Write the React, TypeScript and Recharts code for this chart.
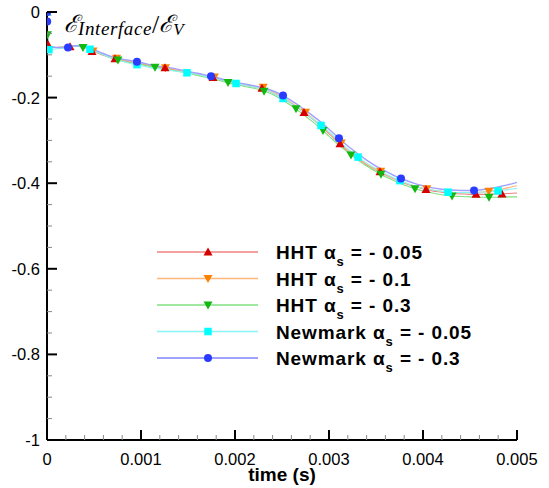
import { ComposedChart, Line, Scatter, XAxis, YAxis } from 'recharts'

// time grid shared by all curves (s)
const timeGrid = [
  0, 0.000002, 0.000005, 0.00001, 0.00002,
  0.0001, 0.0002, 0.0003, 0.0004, 0.0005, 0.0006, 0.0007, 0.0008, 0.0009, 0.001,
  0.0011, 0.0012, 0.0013, 0.0014, 0.0015, 0.0016, 0.0017, 0.0018, 0.0019, 0.002,
  0.0021, 0.0022, 0.0023, 0.0024, 0.0025, 0.0026, 0.0027, 0.0028, 0.0029, 0.003,
  0.0031, 0.0032, 0.0033, 0.0034, 0.0035, 0.0036, 0.0037, 0.0038, 0.0039, 0.004,
  0.0041, 0.0042, 0.0043, 0.0044, 0.0045, 0.0046, 0.0047, 0.0048, 0.0049, 0.005,
]

const hht005 = [
  0, -0.02, -0.05, -0.076, -0.082,
  -0.083, -0.082, -0.079, -0.082, -0.092, -0.101, -0.108, -0.113, -0.117, -0.121,
  -0.125, -0.129, -0.133, -0.137, -0.142, -0.146, -0.151, -0.156, -0.162, -0.167,
  -0.171, -0.175, -0.18, -0.189, -0.2, -0.214, -0.229, -0.246, -0.264, -0.284,
  -0.305, -0.325, -0.342, -0.357, -0.369, -0.381, -0.391, -0.4, -0.407, -0.413,
  -0.418, -0.421, -0.424, -0.425, -0.426, -0.426, -0.426, -0.425, -0.424, -0.423,
]
const hht01 = [
  0, -0.02, -0.05, -0.075, -0.082,
  -0.083, -0.082, -0.079, -0.082, -0.091, -0.1, -0.107, -0.112, -0.116, -0.12,
  -0.124, -0.128, -0.132, -0.136, -0.141, -0.145, -0.15, -0.155, -0.161, -0.166,
  -0.17, -0.174, -0.179, -0.187, -0.198, -0.212, -0.227, -0.244, -0.262, -0.282,
  -0.303, -0.323, -0.34, -0.355, -0.368, -0.38, -0.39, -0.399, -0.406, -0.412,
  -0.416, -0.419, -0.421, -0.422, -0.422, -0.421, -0.419, -0.416, -0.411, -0.406,
]
const hht03 = [
  0, -0.02, -0.053, -0.075, -0.082,
  -0.083, -0.082, -0.079, -0.083, -0.091, -0.1, -0.109, -0.115, -0.119, -0.123,
  -0.127, -0.131, -0.135, -0.139, -0.143, -0.148, -0.153, -0.158, -0.164, -0.169,
  -0.174, -0.178, -0.184, -0.193, -0.205, -0.219, -0.235, -0.252, -0.27, -0.29,
  -0.31, -0.328, -0.345, -0.36, -0.373, -0.385, -0.395, -0.404, -0.412, -0.418,
  -0.423, -0.427, -0.43, -0.431, -0.432, -0.433, -0.433, -0.433, -0.432, -0.432,
]
const nm005 = [
  0, -0.02, -0.05, -0.076, -0.088,
  -0.086, -0.084, -0.08, -0.083, -0.09, -0.1, -0.108, -0.115, -0.121, -0.125,
  -0.13, -0.133, -0.136, -0.139, -0.142, -0.146, -0.151, -0.156, -0.161, -0.167,
  -0.171, -0.175, -0.18, -0.189, -0.201, -0.214, -0.229, -0.246, -0.262, -0.28,
  -0.3, -0.32, -0.337, -0.353, -0.366, -0.378, -0.389, -0.398, -0.406, -0.412,
  -0.416, -0.419, -0.421, -0.422, -0.422, -0.421, -0.42, -0.418, -0.415, -0.412,
]
const nm03 = [
  0, -0.022, -0.05, -0.075, -0.08,
  -0.083, -0.083, -0.079, -0.08, -0.088, -0.097, -0.105, -0.11, -0.114, -0.118,
  -0.123, -0.127, -0.13, -0.134, -0.139, -0.143, -0.148, -0.153, -0.159, -0.164,
  -0.168, -0.172, -0.177, -0.184, -0.194, -0.207, -0.222, -0.238, -0.255, -0.274,
  -0.294, -0.313, -0.33, -0.346, -0.36, -0.372, -0.383, -0.392, -0.4, -0.406,
  -0.411, -0.414, -0.416, -0.417, -0.417, -0.416, -0.413, -0.409, -0.404, -0.398,
]

// symbol positions (time, value) for each series
const hht005MarkT = [0, 0.00001, 0.000245, 0.000479, 0.000723, 0.001255, 0.001766, 0.002287, 0.002734, 0.003117, 0.003543, 0.004032, 0.004564, 0.00484]
const hht005MarkV = [0, -0.076, -0.081, -0.092, -0.109, -0.13, -0.153, -0.178, -0.235, -0.308, -0.373, -0.415, -0.426, -0.425]
const hht01MarkT = [0.00049, 0.00074, 0.00126, 0.00178, 0.0023, 0.00275, 0.00313, 0.00355, 0.00404, 0.0047]
const hht01MarkV = [-0.091, -0.108, -0.13, -0.152, -0.176, -0.234, -0.306, -0.372, -0.413, -0.419]
const hht03MarkT = [0.000005, 0.000383, 0.000755, 0.001149, 0.001926, 0.002309, 0.002649, 0.002936, 0.003234, 0.003553, 0.003915, 0.004309, 0.004702]
const hht03MarkV = [-0.053, -0.083, -0.112, -0.129, -0.165, -0.185, -0.226, -0.277, -0.334, -0.379, -0.413, -0.43, -0.433]
const nm005MarkT = [0, 0.00002, 0.000457, 0.000957, 0.001489, 0.002011, 0.002511, 0.002915, 0.003309, 0.003755, 0.004266, 0.004798]
const nm005MarkV = [0, -0.088, -0.087, -0.123, -0.142, -0.167, -0.202, -0.265, -0.339, -0.394, -0.421, -0.418]
const nm03MarkT = [0, 0.000002, 0.000223, 0.000957, 0.001745, 0.002511, 0.003106, 0.003766, 0.004543]
const nm03MarkV = [0, -0.022, -0.083, -0.116, -0.15, -0.195, -0.295, -0.389, -0.417]

const xMajorTicks = [0, 0.001, 0.002, 0.003, 0.004, 0.005]
const xTickLabels = ['0', '0.001', '0.002', '0.003', '0.004', '0.005']
const xMinorTicks = [
  0.0002, 0.0004, 0.0006, 0.0008, 0.0012, 0.0014, 0.0016, 0.0018, 0.0022, 0.0024,
  0.0026, 0.0028, 0.0032, 0.0034, 0.0036, 0.0038, 0.0042, 0.0044, 0.0046, 0.0048,
]
const yMajorTicks = [0, -0.2, -0.4, -0.6, -0.8, -1]
const yTickLabels = ['0', '-0.2', '-0.4', '-0.6', '-0.8', '-1']
const yMinorTicks = [
  -0.05, -0.1, -0.15, -0.25, -0.3, -0.35, -0.45, -0.5, -0.55,
  -0.65, -0.7, -0.75, -0.85, -0.9, -0.95,
]

const legendNames = ['HHT', 'HHT', 'HHT', 'Newmark', 'Newmark']
const legendAlphas = ['- 0.05', '- 0.1', '- 0.3', '- 0.05', '- 0.3']

type Shape = 'up' | 'down' | 'square' | 'circle'

const toPoints = (ts: number[], vs: number[]) => ts.map((t, i) => ({ t, v: vs[i] }))

const series = [
  { key: 'hht005', line: hht005, mt: hht005MarkT, mv: hht005MarkV, stroke: '#f08080', fill: '#d40000', shape: 'up' as Shape },
  { key: 'hht01', line: hht01, mt: hht01MarkT, mv: hht01MarkV, stroke: '#ffb678', fill: '#ff8000', shape: 'down' as Shape },
  { key: 'hht03', line: hht03, mt: hht03MarkT, mv: hht03MarkV, stroke: '#80e080', fill: '#10b810', shape: 'down' as Shape },
  { key: 'nm005', line: nm005, mt: nm005MarkT, mv: nm005MarkV, stroke: '#8cf4f4', fill: '#00ffff', shape: 'square' as Shape },
  { key: 'nm03', line: nm03, mt: nm03MarkT, mv: nm03MarkV, stroke: '#a0a0ff', fill: '#2a3cff', shape: 'circle' as Shape },
]

// orange symbols go underneath the red ones
const markerOrder = [1, 0, 2, 3, 4]

function Marker({ cx, cy, shape, fill }: { cx: number; cy: number; shape: Shape; fill: string }) {
  if (shape === 'up') {
    return <polygon points={`${cx},${cy - 4.5} ${cx - 4.5},${cy + 3.5} ${cx + 4.5},${cy + 3.5}`} fill={fill} />
  }
  if (shape === 'down') {
    return <polygon points={`${cx - 4.5},${cy - 3.5} ${cx + 4.5},${cy - 3.5} ${cx},${cy + 4.5}`} fill={fill} />
  }
  if (shape === 'square') {
    return <rect x={cx - 3.75} y={cy - 3.75} width={7.5} height={7.5} fill={fill} />
  }
  return <circle cx={cx} cy={cy} r={4} fill={fill} />
}

const tickFont = '"Liberation Sans", Arial, sans-serif'

function XTick({ x, y, payload }: any) {
  const idx = xMajorTicks.indexOf(payload.value)
  const major = idx >= 0
  return (
    <g>
      <line x1={x} x2={x} y1={y} y2={y - (major ? 10 : 5)} stroke={major ? '#000' : '#888'} strokeWidth={major ? 2 : 1} />
      {major && (
        <text x={x} y={y + 25} textAnchor="middle" fontSize={16.5} fontFamily={tickFont} fill="#000">
          {xTickLabels[idx]}
        </text>
      )}
    </g>
  )
}

function YTick({ x, y, payload }: any) {
  const idx = yMajorTicks.indexOf(payload.value)
  const major = idx >= 0
  return (
    <g>
      <line x1={x} x2={x + (major ? 10 : 5)} y1={y} y2={y} stroke={major ? '#000' : '#888'} strokeWidth={major ? 2 : 1} />
      {major && (
        <text x={x - 7} y={y + 6} textAnchor="end" fontSize={16.5} fontFamily={tickFont} fill="#000">
          {yTickLabels[idx]}
        </text>
      )}
    </g>
  )
}

export default function App() {
  return (
    <div style={{ position: 'absolute', left: 0, top: 0, width: 549, height: 488, background: '#fff' }}>
      <ComposedChart width={549} height={488} margin={{ top: 12, right: 32, bottom: 0, left: 0 }}>
        <XAxis
          type="number"
          dataKey="t"
          domain={[0, 0.005]}
          ticks={[...xMajorTicks, ...xMinorTicks].sort((a, b) => a - b)}
          interval={0}
          tickSize={0}
          tickMargin={0}
          tick={<XTick />}
          height={48}
          axisLine={{ stroke: '#000', strokeWidth: 2 }}
          allowDataOverflow
        />
        <YAxis
          type="number"
          dataKey="v"
          domain={[-1, 0]}
          ticks={[...yMajorTicks, ...yMinorTicks].sort((a, b) => a - b)}
          interval={0}
          tickSize={0}
          tickMargin={0}
          tick={<YTick />}
          width={47}
          axisLine={{ stroke: '#000', strokeWidth: 2 }}
          allowDataOverflow
        />
        {series.map((s) => (
          <Line
            key={s.key}
            data={toPoints(timeGrid, s.line)}
            dataKey="v"
            type="monotone"
            stroke={s.stroke}
            strokeWidth={s.key === 'nm03' ? 1.4 : 1.1}
            dot={false}
            activeDot={false}
            isAnimationActive={false}
          />
        ))}
        {markerOrder.map((i) => {
          const s = series[i]
          return (
            <Scatter
              key={s.key + '-m'}
              data={toPoints(s.mt, s.mv)}
              dataKey="v"
              isAnimationActive={false}
              shape={(p: any) => <Marker cx={p.cx} cy={p.cy} shape={s.shape} fill={s.fill} />}
            />
          )
        })}
      </ComposedChart>
      <svg width={549} height={488} style={{ position: 'absolute', left: 0, top: 0, pointerEvents: 'none' }}>
        <text x={64} y={32} fill="#000">
          <tspan fontFamily='"DejaVu Serif", serif' fontStyle="italic" fontSize={24}>ℰ</tspan>
          <tspan fontFamily='"Liberation Serif", serif' fontStyle="italic" fontSize={19} dy={3} letterSpacing={0.6}>Interface</tspan>
          <tspan fontFamily='"Liberation Serif", serif' fontSize={26} dy={-2}>/</tspan>
          <tspan fontFamily='"DejaVu Serif", serif' fontStyle="italic" fontSize={24} dy={-1}>ℰ</tspan>
          <tspan fontFamily='"Liberation Serif", serif' fontStyle="italic" fontSize={17} dy={3}>V</tspan>
        </text>
        <text x={282} y={481} textAnchor="middle" fontSize={19} fontWeight="bold" fontFamily={tickFont} fill="#000">
          time (s)
        </text>
        {series.map((s, i) => {
          const y = 252 + i * 26.5
          return (
            <g key={s.key + '-leg'}>
              <line x1={157} x2={258} y1={y} y2={y} stroke={s.stroke} strokeWidth={s.key === 'nm03' ? 2 : 1.3} />
              <Marker cx={208} cy={y} shape={s.shape} fill={s.fill} />
              <text x={276} y={y + 7} fontSize={19} fontWeight="bold" fontFamily={tickFont} fill="#000" letterSpacing={0.9}>
                {legendNames[i]} α
                <tspan fontSize={13} dy={7}>s</tspan>
                <tspan dy={-7}> = {legendAlphas[i]}</tspan>
              </text>
            </g>
          )
        })}
      </svg>
    </div>
  )
}
